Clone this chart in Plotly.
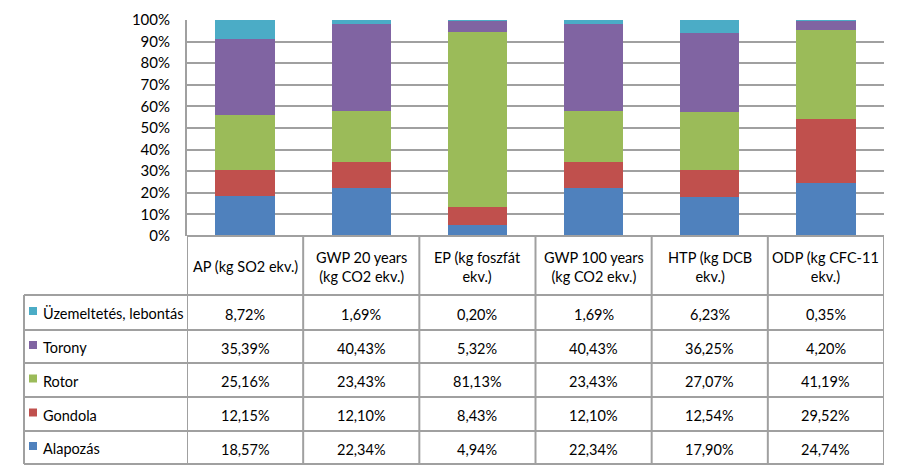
import plotly.graph_objects as go

categories = ["AP (kg SO2 ekv.)", "GWP 20 years<br>(kg CO2 ekv.)", "EP (kg foszfát<br>ekv.)",
              "GWP 100 years<br>(kg CO2 ekv.)", "HTP (kg DCB<br>ekv.)", "ODP (kg CFC-11<br>ekv.)"]
series_names = ["Alapozás", "Gondola", "Rotor", "Torony", "Üzemeltetés, lebontás"]
alapozas = [18.57, 22.34, 4.94, 22.34, 17.90, 24.74]
gondola = [12.15, 12.10, 8.43, 12.10, 12.54, 29.52]
rotor = [25.16, 23.43, 81.13, 23.43, 27.07, 41.19]
torony = [35.39, 40.43, 5.32, 40.43, 36.25, 4.20]
uzemeltetes = [8.72, 1.69, 0.20, 1.69, 6.23, 0.35]
colors = ["#4F81BD", "#C0504D", "#9BBB59", "#8064A2", "#4BACC6"]
y_ticks = [0, 10, 20, 30, 40, 50, 60, 70, 80, 90, 100]

series_values = [alapozas, gondola, rotor, torony, uzemeltetes]

OFF = 8  # page body margin
W, H = 897 - OFF, 472 - OFF
FONT = "Lato, Carlito, Calibri, Open Sans, sans-serif"
FS = 14.5
LINE = "#A0A0A0"
LW = 2


def py(p):
    return 1 - (p - OFF) / H


def px_(p):
    return (p - OFF) / W


x_pos = list(range(len(categories)))

fig = go.Figure()
for name, vals, col in zip(series_names, series_values, colors):
    fig.add_trace(go.Bar(x=x_pos, y=vals, name=name, marker=dict(color=col, line=dict(width=0)),
                         showlegend=False, width=0.51))

plot_left, plot_right = 187, 884
top100, bottom0 = 20, 236
row_edges = [236, 295, 330, 363, 397, 431, 464]
legend_left = 24

shapes = []
shapes.append(dict(type="line", xref="paper", yref="paper", x0=px_(plot_left), x1=px_(plot_right),
                   y0=py(row_edges[0]), y1=py(row_edges[0]), line=dict(color=LINE, width=LW)))
for ye in row_edges[1:]:
    shapes.append(dict(type="line", xref="paper", yref="paper", x0=px_(legend_left), x1=px_(plot_right),
                       y0=py(ye), y1=py(ye), line=dict(color=LINE, width=LW)))
for i in range(len(categories) + 1):
    shapes.append(dict(type="line", xref="x", yref="paper", x0=i - 0.5, x1=i - 0.5,
                       y0=py(row_edges[0]), y1=py(row_edges[-1]), line=dict(color=LINE, width=LW)))
shapes.append(dict(type="line", xref="paper", yref="paper", x0=px_(legend_left), x1=px_(legend_left),
                   y0=py(row_edges[1]), y1=py(row_edges[-1]), line=dict(color=LINE, width=LW)))

annotations = []
for i, cat in enumerate(categories):
    annotations.append(dict(x=i, xref="x", y=py((row_edges[0] + row_edges[1]) / 2 + 1), yref="paper",
                            text=cat, showarrow=False, xanchor="center", yanchor="middle",
                            font=dict(family=FONT, size=FS, color="#000000")))
table_rows = list(zip(series_names, series_values, colors))[::-1]
for r, (name, vals, col) in enumerate(table_rows):
    yc = (row_edges[r + 1] + row_edges[r + 2]) / 2
    shapes.append(dict(type="rect", xref="paper", yref="paper", x0=px_(29), x1=px_(37),
                       y0=py(yc + 2.5), y1=py(yc - 5.5), fillcolor=col, line=dict(width=0)))
    annotations.append(dict(x=px_(41), xref="paper", y=py(yc + 1), yref="paper", text=name,
                            showarrow=False, xanchor="left", yanchor="middle",
                            font=dict(family=FONT, size=FS, color="#000000")))
    for i, v in enumerate(vals):
        label = f"{v:.2f}".replace(".", ",") + "%"
        annotations.append(dict(x=i, xref="x", y=py(yc + 1.5), yref="paper", text=label,
                                showarrow=False, xanchor="center", yanchor="middle",
                                font=dict(family=FONT, size=FS, color="#000000")))

fig.update_layout(
    width=W, height=H, barmode="stack", bargap=0.49,
    margin=dict(l=0, r=0, t=0, b=0, pad=0, autoexpand=False),
    paper_bgcolor="white", plot_bgcolor="white",
    xaxis=dict(domain=[px_(plot_left), px_(plot_right)], range=[-0.5, len(categories) - 0.5],
               showticklabels=False, showgrid=False, zeroline=False, showline=False,
               automargin=False, fixedrange=True),
    yaxis=dict(domain=[py(bottom0), py(top100)], range=[0, 100], tickvals=y_ticks,
               ticktext=[f"{t}%" for t in y_ticks], showgrid=True, gridcolor=LINE, gridwidth=LW,
               zeroline=False, showline=True, linecolor=LINE, linewidth=LW, ticks="",
               automargin=False, ticklabelstandoff=12,
               tickfont=dict(family=FONT, size=FS + 0.5, color="#000000")),
    shapes=shapes, annotations=annotations,
)

fig.write_html("out.html")
